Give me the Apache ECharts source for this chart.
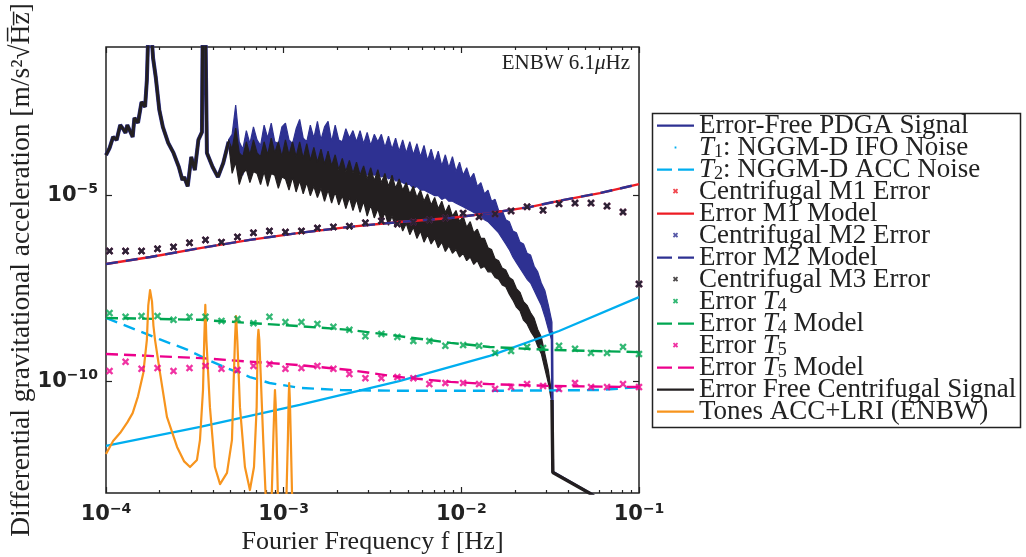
<!DOCTYPE html>
<html><head><meta charset="utf-8">
<script src="https://cdn.jsdelivr.net/npm/echarts@6/dist/echarts.min.js"></script>
<style>html,body{margin:0;padding:0;background:#fff}#c{width:1026px;height:557px}</style>
</head><body><div id="c"></div>
<script>
// All pairs are [log10(frequency Hz), log10(value)].
const SIGNAL_LOW = [
[-4.00,-3.91],[-3.98,-3.72],[-3.96,-3.42],[-3.94,-3.50],[-3.92,-3.10],[-3.90,-3.23],[-3.89,-3.31],[-3.88,-3.10],
[-3.85,-3.42],[-3.84,-2.91],[-3.82,-3.04],[-3.80,-2.48],[-3.78,-2.61],[-3.77,-1.89],[-3.762,-0.60],[-3.745,-0.60],
[-3.735,-1.30],[-3.72,-1.81],[-3.70,-2.69],[-3.68,-3.15],[-3.65,-3.58],[-3.62,-3.85],[-3.59,-4.23],[-3.57,-4.58],
[-3.56,-4.50],[-3.54,-4.75],[-3.52,-3.96],[-3.50,-4.31],[-3.48,-3.50],[-3.46,-3.29],[-3.456,-0.60],[-3.44,-0.60],
[-3.432,-3.85],[-3.40,-4.23],[-3.37,-4.50],[-3.34,-4.12],[-3.31,-3.55]
];
const PDGA_TOP = [
[-3.31,-3.50],[-3.29,-3.35],[-3.27,-2.56],[-3.25,-3.55],[-3.23,-3.75],[-3.21,-3.25],[-3.19,-3.60],[-3.17,-3.15],[-3.15,-3.50],
[-3.13,-3.65],[-3.11,-3.10],[-3.09,-3.45],[-3.07,-3.05],[-3.05,-3.55],[-3.03,-3.60],[-3.01,-3.15],[-2.99,-3.05],[-2.97,-3.50],
[-2.95,-3.60],[-2.93,-3.20],[-2.91,-2.95],[-2.89,-3.45],[-2.87,-3.55],[-2.85,-3.10],[-2.83,-3.45],[-2.81,-3.00],[-2.79,-3.50],
[-2.77,-3.15],[-2.75,-3.00],[-2.73,-3.55],[-2.71,-3.10],[-2.69,-3.50],[-2.67,-3.55],[-2.65,-3.20],[-2.63,-3.45],[-2.61,-3.25],
[-2.59,-3.55],[-2.57,-3.25],[-2.55,-3.60],[-2.53,-3.30],[-2.51,-3.65],[-2.49,-3.35],[-2.47,-3.55],[-2.45,-3.35],[-2.43,-3.70],
[-2.41,-3.40],[-2.39,-3.75],[-2.37,-3.45],[-2.35,-3.80],[-2.33,-3.50],[-2.31,-3.85],[-2.29,-3.55],[-2.27,-3.90],[-2.25,-3.60],
[-2.23,-3.95],[-2.21,-3.65],[-2.19,-4.05],[-2.17,-3.75],[-2.15,-4.10],[-2.13,-3.80],[-2.11,-4.20],[-2.09,-3.90],[-2.07,-4.25],
[-2.05,-3.95],[-2.03,-4.35],[-2.01,-4.10],[-1.99,-4.45],[-1.97,-4.25],[-1.95,-4.55],[-1.93,-4.40],[-1.91,-4.75],[-1.89,-4.65],
[-1.87,-4.95],[-1.85,-4.85],[-1.83,-5.15],[-1.81,-5.10],[-1.79,-5.40],[-1.77,-5.40],[-1.75,-5.65],[-1.73,-5.70],[-1.71,-5.95],
[-1.69,-6.00],[-1.67,-6.25],[-1.65,-6.30],[-1.63,-6.55],[-1.61,-6.60],[-1.59,-6.90],[-1.57,-7.05],[-1.55,-7.35],[-1.53,-7.55],
[-1.51,-7.95],[-1.49,-8.40]
];
const PDGA_BOTTOM = [
[-3.31,-3.60],[-3.29,-4.10],[-3.27,-3.70],[-3.25,-4.30],[-3.23,-4.45],[-3.21,-4.05],[-3.19,-3.95],[-3.17,-4.10],[-3.15,-4.00],
[-3.13,-3.95],[-3.11,-4.05],[-3.09,-4.10],[-3.07,-4.00],[-3.05,-3.95],[-3.03,-4.10],[-3.01,-4.15],[-2.99,-4.05],[-2.97,-4.10],
[-2.95,-4.20],[-2.93,-4.15],[-2.91,-4.20],[-2.89,-4.10],[-2.87,-4.25],[-2.85,-4.20],[-2.83,-4.15],[-2.81,-4.25],[-2.79,-4.20],
[-2.77,-4.30],[-2.75,-4.25],[-2.73,-4.20],[-2.71,-4.30],[-2.69,-4.25],[-2.67,-4.35],[-2.65,-4.25],[-2.63,-4.30],[-2.61,-4.35],
[-2.59,-4.30],[-2.57,-4.40],[-2.55,-4.35],[-2.53,-4.45],[-2.51,-4.40],[-2.49,-4.45],[-2.47,-4.40],[-2.45,-4.50],[-2.43,-4.45],
[-2.41,-4.55],[-2.39,-4.50],[-2.37,-4.60],[-2.35,-4.60],[-2.33,-4.65],[-2.31,-4.70],[-2.29,-4.70],[-2.27,-4.80],[-2.25,-4.75],
[-2.23,-4.85],[-2.21,-4.85],[-2.19,-4.90],[-2.17,-4.95],[-2.15,-5.00],[-2.13,-5.00],[-2.11,-5.10],[-2.09,-5.05],[-2.07,-5.15],
[-2.05,-5.15],[-2.03,-5.20],[-2.01,-5.25],[-1.99,-5.30],[-1.97,-5.35],[-1.95,-5.40],[-1.93,-5.45],[-1.91,-5.50],[-1.89,-5.55],
[-1.87,-5.65],[-1.85,-5.70],[-1.83,-5.80],[-1.81,-5.90],[-1.79,-6.00],[-1.77,-6.15],[-1.75,-6.30],[-1.73,-6.45],[-1.71,-6.65],
[-1.69,-6.80],[-1.67,-6.95],[-1.65,-7.10],[-1.63,-7.25],[-1.61,-7.35],[-1.59,-7.55],[-1.57,-7.75],[-1.55,-7.95],[-1.53,-8.25],
[-1.51,-8.60],[-1.49,-8.90]
];
const PDGA_TAIL = [[-1.49,-8.65],[-1.485,-12.43],[-1.26,-13.05],[-1.20,-13.30]];
const CENT_TOP = [
[-3.31,-3.50],[-3.29,-3.75],[-3.27,-3.18],[-3.25,-3.85],[-3.23,-3.95],[-3.21,-3.55],[-3.19,-3.90],[-3.17,-3.50],[-3.15,-3.85],
[-3.13,-3.95],[-3.11,-3.55],[-3.09,-3.90],[-3.07,-3.45],[-3.05,-3.85],[-3.03,-3.55],[-3.01,-3.95],[-2.99,-3.50],[-2.97,-3.90],
[-2.95,-3.55],[-2.93,-3.95],[-2.91,-3.55],[-2.89,-4.00],[-2.87,-3.60],[-2.85,-4.05],[-2.83,-3.70],[-2.81,-4.10],[-2.79,-3.75],
[-2.77,-4.15],[-2.75,-3.80],[-2.73,-4.20],[-2.71,-3.90],[-2.69,-4.30],[-2.67,-4.00],[-2.65,-4.35],[-2.63,-4.05],[-2.61,-4.40],
[-2.59,-4.10],[-2.57,-4.45],[-2.55,-4.20],[-2.53,-4.55],[-2.51,-4.25],[-2.49,-4.60],[-2.47,-4.30],[-2.45,-4.65],[-2.43,-4.40],
[-2.41,-4.75],[-2.39,-4.45],[-2.37,-4.80],[-2.35,-4.55],[-2.33,-4.85],[-2.31,-4.65],[-2.29,-4.95],[-2.27,-4.75],[-2.25,-5.05],
[-2.23,-4.85],[-2.21,-5.15],[-2.19,-4.95],[-2.17,-5.25],[-2.15,-5.05],[-2.13,-5.35],[-2.11,-5.15],[-2.09,-5.45],[-2.07,-5.25],
[-2.05,-5.55],[-2.03,-5.40],[-2.01,-5.70],[-1.99,-5.55],[-1.97,-5.85],[-1.95,-5.70],[-1.93,-6.00],[-1.91,-5.90],[-1.89,-6.15],
[-1.87,-6.15],[-1.85,-6.40],[-1.83,-6.45],[-1.81,-6.70],[-1.79,-6.75],[-1.77,-6.95],[-1.75,-7.00],[-1.73,-7.20],[-1.71,-7.27],
[-1.69,-7.50],[-1.67,-7.60],[-1.65,-7.85],[-1.63,-7.95],[-1.61,-8.15],[-1.59,-8.30],[-1.57,-8.60],[-1.55,-8.80],[-1.53,-9.25],
[-1.51,-9.70],[-1.49,-10.40]
];
const CENT_BOTTOM = [
[-3.31,-3.60],[-3.29,-4.40],[-3.27,-4.10],[-3.25,-4.70],[-3.23,-4.40],[-3.21,-4.30],[-3.19,-4.65],[-3.17,-4.35],[-3.15,-4.40],
[-3.13,-4.70],[-3.11,-4.35],[-3.09,-4.75],[-3.07,-4.40],[-3.05,-4.45],[-3.03,-4.80],[-3.01,-4.50],[-2.99,-4.55],[-2.97,-4.85],
[-2.95,-4.50],[-2.93,-4.90],[-2.91,-4.60],[-2.89,-4.95],[-2.87,-4.65],[-2.85,-5.00],[-2.83,-4.75],[-2.81,-5.05],[-2.79,-4.80],
[-2.77,-5.15],[-2.75,-4.85],[-2.73,-5.20],[-2.71,-4.90],[-2.69,-5.25],[-2.67,-5.00],[-2.65,-5.35],[-2.63,-5.05],[-2.61,-5.40],
[-2.59,-5.10],[-2.57,-5.45],[-2.55,-5.15],[-2.53,-5.55],[-2.51,-5.25],[-2.49,-5.60],[-2.47,-5.35],[-2.45,-5.70],[-2.43,-5.45],
[-2.41,-5.80],[-2.39,-5.55],[-2.37,-5.85],[-2.35,-5.65],[-2.33,-5.95],[-2.31,-5.75],[-2.29,-6.05],[-2.27,-5.85],[-2.25,-6.15],
[-2.23,-5.95],[-2.21,-6.25],[-2.19,-6.05],[-2.17,-6.30],[-2.15,-6.15],[-2.13,-6.40],[-2.11,-6.25],[-2.09,-6.50],[-2.07,-6.35],
[-2.05,-6.55],[-2.03,-6.45],[-2.01,-6.65],[-1.99,-6.55],[-1.97,-6.75],[-1.95,-6.65],[-1.93,-6.85],[-1.91,-6.75],[-1.89,-6.95],
[-1.87,-6.90],[-1.85,-7.05],[-1.83,-7.05],[-1.81,-7.20],[-1.79,-7.25],[-1.77,-7.40],[-1.75,-7.45],[-1.73,-7.65],[-1.71,-7.81],
[-1.69,-8.00],[-1.67,-8.10],[-1.65,-8.35],[-1.63,-8.45],[-1.61,-8.65],[-1.59,-8.80],[-1.57,-9.05],[-1.55,-9.25],[-1.53,-9.65],
[-1.51,-10.05],[-1.49,-10.60]
];
const CENT_TAIL = [[-1.49,-10.50],[-1.485,-12.45],[-1.28,-13.00],[-1.22,-13.20]];
const T1_NOISE = [[-4.00,-11.73],[-3.47,-11.22],[-2.91,-10.63],[-2.35,-9.99],[-1.84,-9.31],[-1.45,-8.64],[-1.00,-7.73]];
const T2_NOISE = [[-4.00,-8.29],[-3.70,-8.86],[-3.54,-9.15],[-3.41,-9.45],[-3.32,-9.64],[-3.19,-9.88],[-3.08,-10.04],
[-2.91,-10.17],[-2.68,-10.23],[-2.35,-10.25],[-1.84,-10.25],[-1.22,-10.23],[-1.00,-10.15]];
const M_MODEL = [[-4.00,-6.84],[-3.75,-6.65],[-3.47,-6.41],[-3.19,-6.19],[-2.91,-6.00],[-2.63,-5.84],[-2.35,-5.71],
[-2.06,-5.60],[-1.84,-5.47],[-1.61,-5.30],[-1.45,-5.14],[-1.22,-4.93],[-1.00,-4.69]];
const T4_MODEL = [[-4.00,-8.29],[-3.47,-8.34],[-2.91,-8.51],[-2.63,-8.61],[-2.35,-8.78],[-2.06,-8.96],[-1.84,-9.07],[-1.50,-9.15],[-1.00,-9.21]];
const T5_MODEL = [[-4.00,-9.26],[-3.47,-9.37],[-2.91,-9.56],[-2.63,-9.69],[-2.35,-9.88],[-2.06,-10.01],[-1.84,-10.07],[-1.50,-10.12],[-1.00,-10.15]];
const MARKER_LOGF = [-3.98,-3.89,-3.80,-3.71,-3.62,-3.53,-3.44,-3.35,-3.26,-3.17,-3.08,-2.99,-2.90,-2.81,-2.72,-2.63,-2.54,
-2.45,-2.36,-2.27,-2.18,-2.09,-1.99,-1.90,-1.81,-1.72,-1.63,-1.54,-1.45,-1.36,-1.27,-1.18,-1.09,-1.00];
const CENTRIFUGAL_ERR = [-6.49,-6.49,-6.49,-6.43,-6.38,-6.27,-6.19,-6.25,-6.11,-6.00,-5.95,-5.98,-5.95,-5.87,-5.84,-5.82,-5.73,
-5.68,-5.76,-5.71,-5.65,-5.60,-5.47,-5.57,-5.49,-5.41,-5.30,-5.39,-5.22,-5.20,-5.20,-5.28,-5.44,-7.38];
const T4_ERR = [-8.16,-8.26,-8.24,-8.24,-8.34,-8.26,-8.26,-8.37,-8.32,-8.43,-8.26,-8.40,-8.40,-8.45,-8.53,-8.61,-8.78,
-8.72,-8.80,-8.91,-8.91,-9.04,-9.02,-9.04,-9.23,-9.18,-9.07,-9.10,-9.04,-9.12,-9.23,-9.23,-9.07,-9.26];
const T5_ERR = [-9.72,-9.47,-9.66,-9.64,-9.72,-9.64,-9.58,-9.66,-9.69,-9.58,-9.53,-9.66,-9.64,-9.58,-9.66,-9.80,-9.91,
-9.91,-9.88,-9.91,-10.07,-10.04,-10.04,-10.07,-10.20,-10.15,-10.07,-10.12,-10.20,-10.04,-10.15,-10.15,-10.07,-10.15];
const TONES = [
[-4.000,-11.95],[-3.960,-11.60],[-3.920,-11.38],[-3.880,-11.10],[-3.850,-10.85],[-3.820,-10.40],[-3.790,-9.77],[-3.770,-8.88],
[-3.762,-7.95],[-3.752,-7.54],[-3.741,-7.85],[-3.733,-8.50],[-3.724,-8.88],[-3.696,-9.77],[-3.657,-10.95],[-3.600,-11.76],
[-3.560,-12.15],[-3.527,-12.30],[-3.488,-12.11],[-3.471,-11.57],[-3.454,-10.23],[-3.447,-8.88],[-3.441,-7.94],[-3.435,-8.88],
[-3.415,-10.69],[-3.387,-12.30],[-3.358,-12.76],[-3.319,-12.46],[-3.291,-11.57],[-3.280,-9.77],[-3.274,-8.88],[-3.268,-8.24],
[-3.261,-8.88],[-3.246,-10.69],[-3.218,-12.30],[-3.190,-12.92],[-3.167,-12.30],[-3.152,-10.69],[-3.146,-8.88],[-3.142,-8.61],
[-3.137,-8.88],[-3.115,-11.57],[-3.101,-13.10],[-3.068,-13.20],[-3.058,-11.50],[-3.052,-10.60],[-3.049,-10.23],[-3.045,-10.60],
[-3.040,-11.50],[-3.032,-13.20],[-2.985,-13.20],[-2.976,-11.50],[-2.972,-10.50],[-2.969,-10.04],[-2.965,-10.50],[-2.960,-11.50],
[-2.952,-13.20]
];
const X_MAJOR = [1e-4, 1e-3, 1e-2, 1e-1];
const X_MINOR = [2e-4,3e-4,4e-4,5e-4,6e-4,7e-4,8e-4,9e-4,2e-3,3e-3,4e-3,5e-3,6e-3,7e-3,8e-3,9e-3,2e-2,3e-2,4e-2,5e-2,6e-2,7e-2,8e-2,9e-2];
const Y_TICKS = [1e-10, 1e-5];
const LEGEND_NAMES = ['Error-Free PDGA Signal','T1: NGGM-D IFO Noise','T2: NGGM-D ACC Noise','Centrifugal M1 Error',
'Error M1 Model','Centrifugal M2 Error','Error M2 Model','Centrifugal M3 Error','Error T4','Error T4 Model','Error T5',
'Error T5 Model','Error Free Centrifugal Signal','Tones ACC+LRI (ENBW)'];

const BLUE='#2e3192', CYAN='#00aeef', RED='#ed1c24', BLACK='#231f20', GREEN='#00a651', MAGENTA='#ec008c', ORANGE='#f7941d';
const SERIF = 'Liberation Serif';
const toXY = p => [Math.pow(10, p[0]), Math.pow(10, p[1])];
const markers = vals => vals.map((v, i) => [Math.pow(10, MARKER_LOGF[i]), Math.pow(10, v)]);
const XSYM = 'path://M0,2.2L2.2,0L5,2.8L7.8,0L10,2.2L7.2,5L10,7.8L7.8,10L5,7.2L2.2,10L0,7.8L2.8,5Z';
const BOX = 'M0,0h0.01v0.01h-0.01zM36.99,13.99h0.01v0.01h-0.01z';
const IC_LINE = 'path://' + BOX + 'M0,6h37v2.2h-37z';
const IC_DASH = 'path://' + BOX + 'M0,6h15v2.2h-15zM21,6h16v2.2h-16z';
const IC_X = 'path://' + BOX + 'M15.8,5.2L17.1,3.9L18.5,5.3L19.9,3.9L21.2,5.2L19.8,6.6L21.2,8L19.9,9.3L18.5,7.9L17.1,9.3L15.8,8L17.2,6.6Z';
const IC_DOT = 'path://' + BOX + 'M17.6,6.1h1.8v1.8h-1.8z';
const ICONS = [IC_LINE, IC_DOT, IC_DASH, IC_X, IC_LINE, IC_X, IC_DASH, IC_X, IC_X, IC_DASH, IC_X, IC_DASH, IC_LINE, IC_LINE];

const expLabel = v => { const e = Math.round(Math.log10(v)); return '{b|10}{s|\u2212' + Math.abs(e) + '}'; };
const tickRich = {
  b: {fontFamily:'DejaVu Sans', fontWeight:'bold', fontSize:21, color:'#222', lineHeight:26},
  s: {fontFamily:'DejaVu Sans', fontWeight:'bold', fontSize:14, color:'#222', lineHeight:10, verticalAlign:'top'}
};
function xAxisDef(pos, major, showLabel) {
  return {
    type:'log', logBase:10, min:1e-4, max:1e-1, position:pos, gridIndex:0,
    axisLine:{show:false}, splitLine:{show:false},
    axisTick:{show:true, inside:true, length: major ? 6 : 3, customValues: major ? X_MAJOR : X_MINOR, lineStyle:{color:'#222', width:1.2}},
    axisLabel: showLabel ? {show:true, customValues:X_MAJOR, formatter:expLabel, margin:9, rich:tickRich} : {show:false},
    name: showLabel ? 'Fourier Frequency f [Hz]' : '',
    nameLocation:'middle', nameGap:36, nameMoveOverlap:false,
    nameTextStyle:{fontFamily:SERIF, fontSize:26, color:'#222'}
  };
}
function yAxisDef(pos, showLabel) {
  return {
    type:'log', logBase:10, min:1e-13, max:1e-1, position:pos, gridIndex:0,
    axisLine:{show:false}, splitLine:{show:false},
    axisTick:{show:true, inside:true, length:6, customValues:Y_TICKS, lineStyle:{color:'#222', width:1.2}},
    axisLabel: showLabel ? {show:true, customValues:Y_TICKS, formatter:expLabel, margin:8, rich:tickRich} : {show:false},
    name: showLabel ? 'Differential gravitational acceleration [m/s\u00b2\u221aH\u0305z\u0305]' : '',
    nameLocation:'middle', nameGap:70, nameMoveOverlap:false,
    nameTextStyle:{fontFamily:SERIF, fontSize:27.5, color:'#222'}
  };
}
const lineS = (name, data, color, width, type, join) => ({
  name, type:'line', data:data.map(toXY), symbol:'none', showSymbol:false, silent:true,
  itemStyle:{color}, lineStyle:{color, width, type: type || 'solid', join: join || 'bevel'}, z:2
});
const scatS = (name, vals, color) => ({
  name, type:'scatter', data:markers(vals), symbol:XSYM, symbolSize:7.5, silent:true, itemStyle:{color}, z:2
});
const bandS = (name, top, bottom, color) => ({
  name, type:'custom', coordinateSystem:'cartesian2d', silent:true, z:2, clip:true,
  itemStyle:{color}, data:[[1e-3, 1e-5]],
  renderItem:(params, api) => ({
    type:'polygon',
    shape:{points: top.concat(bottom.slice().reverse()).map(p => api.coord(toXY(p)))},
    style:{fill:color, stroke:color, lineWidth:1.2, lineJoin:'bevel'}
  })
});

const chart = echarts.init(document.getElementById('c'), null, {renderer:'canvas'});
chart.setOption({
  animation:false,
  backgroundColor:'#fff',
  title:{text:'ENBW 6.1{i|\u03bc}Hz', right:391, top:48,
    textStyle:{fontFamily:SERIF, fontSize:21, fontWeight:'normal', color:'#222',
      rich:{i:{fontFamily:SERIF, fontSize:21, fontStyle:'italic', color:'#222'}}}},
  grid:{left:106, top:47, width:533, height:446, show:true, borderColor:'#222', borderWidth:1.5,
        backgroundColor:'transparent', containLabel:false, outerBoundsMode:'none'},
  xAxis:[xAxisDef('bottom', true, true), xAxisDef('bottom', false, false), xAxisDef('top', true, false), xAxisDef('top', false, false)],
  yAxis:[yAxisDef('left', true), yAxisDef('right', false)],
  legend:{
    orient:'vertical', left:652, top:111, padding:[1,5,4,5], itemGap:-5, itemWidth:37, itemHeight:14,
    selectedMode:false, itemStyle:{borderWidth:0},
    data: LEGEND_NAMES.map((n, i) => ({name:n, icon:ICONS[i]})),
    formatter: n => n.replace(/T(\d)/, '{it|T}{sb|$1}'),
    textStyle:{fontFamily:SERIF, fontSize:27, color:'#222',
      rich:{it:{fontFamily:SERIF, fontSize:27, fontStyle:'italic', color:'#222'},
            sb:{fontFamily:SERIF, fontSize:18, color:'#222', lineHeight:7, verticalAlign:'bottom'}}}
  },
  graphic:{elements:[{type:'rect', shape:{x:652.5, y:113.5, width:368, height:314}, style:{fill:'none', stroke:'#222', lineWidth:1.5}, z:10, silent:true}]},
  series:[
    bandS(LEGEND_NAMES[0], PDGA_TOP, PDGA_BOTTOM, BLUE),
    lineS(LEGEND_NAMES[0], SIGNAL_LOW, BLUE, 4),
    lineS(LEGEND_NAMES[0], PDGA_TAIL, BLUE, 2.6),
    lineS(LEGEND_NAMES[1], T1_NOISE, CYAN, 2.2),
    lineS(LEGEND_NAMES[2], T2_NOISE, CYAN, 2.4, [12,7]),
    scatS(LEGEND_NAMES[3], CENTRIFUGAL_ERR, RED),
    lineS(LEGEND_NAMES[4], M_MODEL, RED, 2.4),
    scatS(LEGEND_NAMES[5], CENTRIFUGAL_ERR, BLUE),
    lineS(LEGEND_NAMES[6], M_MODEL, BLUE, 2.4, [12,8]),
    scatS(LEGEND_NAMES[7], CENTRIFUGAL_ERR, BLACK),
    scatS(LEGEND_NAMES[8], T4_ERR, GREEN),
    lineS(LEGEND_NAMES[9], T4_MODEL, GREEN, 2.4, [12,6]),
    scatS(LEGEND_NAMES[10], T5_ERR, MAGENTA),
    lineS(LEGEND_NAMES[11], T5_MODEL, MAGENTA, 2.4, [12,6]),
    bandS(LEGEND_NAMES[12], CENT_TOP, CENT_BOTTOM, BLACK),
    lineS(LEGEND_NAMES[12], SIGNAL_LOW, BLACK, 3),
    lineS(LEGEND_NAMES[12], CENT_TAIL, BLACK, 3.4),
    lineS(LEGEND_NAMES[13], TONES, ORANGE, 2.2, 'solid', 'round')
  ]
});
</script></body></html>
